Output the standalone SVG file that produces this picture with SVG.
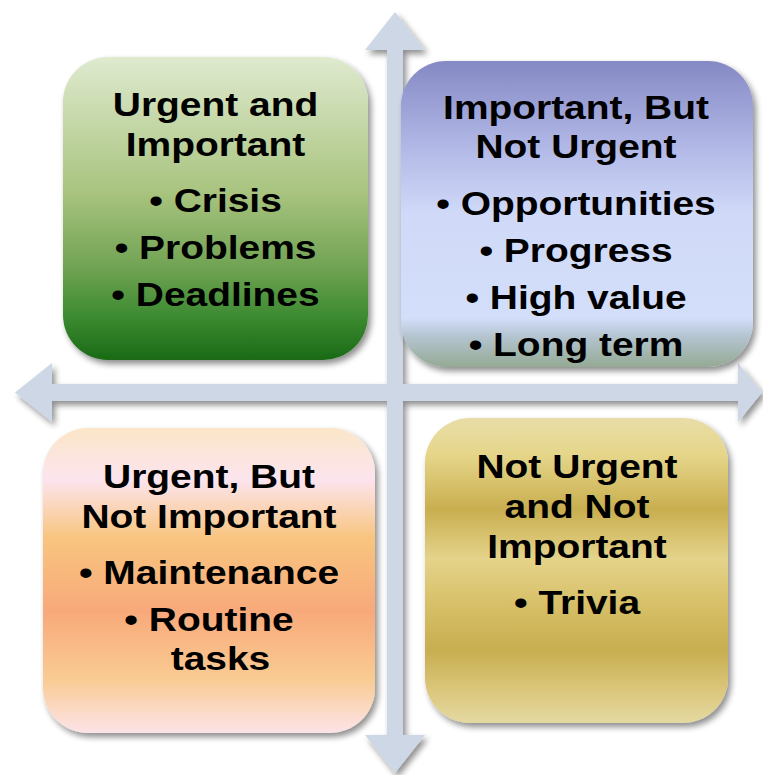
<svg xmlns="http://www.w3.org/2000/svg" width="763" height="775" viewBox="0 0 763 775">
  <defs>
    <linearGradient id="gGreen" x1="0" y1="0" x2="0" y2="1">
      <stop offset="0" stop-color="#DFEACF"/>
      <stop offset="0.45" stop-color="#A8C37E"/>
      <stop offset="0.7" stop-color="#6FA252"/>
      <stop offset="0.86" stop-color="#3B8A30"/>
      <stop offset="1" stop-color="#1A6A16"/>
    </linearGradient>
    <linearGradient id="gBlue" x1="0" y1="0" x2="0" y2="1">
      <stop offset="0" stop-color="#8589C4"/>
      <stop offset="0.3" stop-color="#B4BBE8"/>
      <stop offset="0.5" stop-color="#D0DAF8"/>
      <stop offset="0.84" stop-color="#D3DEFA"/>
      <stop offset="0.9" stop-color="#B4C4D0"/>
      <stop offset="1" stop-color="#94AA94"/>
    </linearGradient>
    <linearGradient id="gPeach" x1="0" y1="0" x2="0" y2="1">
      <stop offset="0" stop-color="#FBE6C8"/>
      <stop offset="0.17" stop-color="#FCE4EE"/>
      <stop offset="0.36" stop-color="#F8C57F"/>
      <stop offset="0.6" stop-color="#F8A97A"/>
      <stop offset="0.82" stop-color="#F9CB92"/>
      <stop offset="1" stop-color="#FCE3E8"/>
    </linearGradient>
    <linearGradient id="gGold" x1="0" y1="0" x2="0" y2="1">
      <stop offset="0" stop-color="#E8DDA8"/>
      <stop offset="0.12" stop-color="#E6D68A"/>
      <stop offset="0.3" stop-color="#C9AE4F"/>
      <stop offset="0.46" stop-color="#E4D38A"/>
      <stop offset="0.6" stop-color="#D8C16A"/>
      <stop offset="0.76" stop-color="#C8AE50"/>
      <stop offset="0.9" stop-color="#DCC87E"/>
      <stop offset="1" stop-color="#E4D9A2"/>
    </linearGradient>
    <filter id="shadow" x="-10%" y="-10%" width="125%" height="125%">
      <feGaussianBlur in="SourceAlpha" stdDeviation="3"/>
      <feOffset dx="3" dy="4" result="b"/>
      <feComponentTransfer><feFuncA type="linear" slope="0.45"/></feComponentTransfer>
      <feMerge><feMergeNode/><feMergeNode in="SourceGraphic"/></feMerge>
    </filter>
  </defs>
  <style>
    .box { filter: url(#shadow); }
    .label { font-family: "Liberation Sans", Arial, sans-serif; font-weight: bold; font-size: 34px; fill: #000; text-anchor: middle; }
    .axes { fill: #CED7E6; }
  </style>

  <rect width="763" height="775" fill="#FFFFFF"/>

  <!-- Axis cross: vertical and horizontal double-headed arrows -->
  <g id="connectors" filter="url(#shadow)">
    <path class="axes" d="M395 12 L425 50 L403 50 L403 735 L425 735 L395 773 L365 735 L387 735 L387 50 L365 50 Z"/>
    <path class="axes" d="M15 392.5 L52 363 L52 384 L738 384 L738 363 L762 392.5 L738 422 L738 401 L52 401 L52 422 Z"/>
  </g>

  <!-- Quadrant: urgent and important -->
  <g id="q-urgent-important">
    <rect class="box" x="63" y="57" width="305" height="303" rx="45" fill="url(#gGreen)"/>
    <g transform="translate(215.5 0) scale(1.145 1)">
      <text class="label" x="0" y="116">Urgent and</text>
      <text class="label" x="0" y="156">Important</text>
      <text class="label" x="0" y="212">• Crisis</text>
      <text class="label" x="0" y="259">• Problems</text>
      <text class="label" x="0" y="306">• Deadlines</text>
    </g>
  </g>

  <!-- Quadrant: important but not urgent -->
  <g id="q-important-not-urgent">
    <rect class="box" x="401" y="61" width="352" height="306" rx="45" fill="url(#gBlue)"/>
    <g transform="translate(576 0) scale(1.145 1)">
      <text class="label" x="0" y="119">Important, But</text>
      <text class="label" x="0" y="158">Not Urgent</text>
      <text class="label" x="0" y="215">• Opportunities</text>
      <text class="label" x="0" y="262">• Progress</text>
      <text class="label" x="0" y="309">• High value</text>
      <text class="label" x="0" y="356">• Long term</text>
    </g>
  </g>

  <!-- Quadrant: urgent but not important -->
  <g id="q-urgent-not-important">
    <rect class="box" x="43" y="428" width="332" height="305" rx="45" fill="url(#gPeach)"/>
    <g transform="translate(209 0) scale(1.145 1)">
      <text class="label" x="0" y="488">Urgent, But</text>
      <text class="label" x="0" y="528">Not Important</text>
      <text class="label" x="0" y="584">• Maintenance</text>
      <text class="label" x="0" y="631">• Routine</text>
      <text class="label" x="10" y="670">tasks</text>
    </g>
  </g>

  <!-- Quadrant: not urgent and not important -->
  <g id="q-not-urgent-not-important">
    <rect class="box" x="425" y="418" width="303" height="305" rx="45" fill="url(#gGold)"/>
    <g transform="translate(577 0) scale(1.145 1)">
      <text class="label" x="0" y="478">Not Urgent</text>
      <text class="label" x="0" y="518">and Not</text>
      <text class="label" x="0" y="558">Important</text>
      <text class="label" x="0" y="614">• Trivia</text>
    </g>
  </g>
</svg>
